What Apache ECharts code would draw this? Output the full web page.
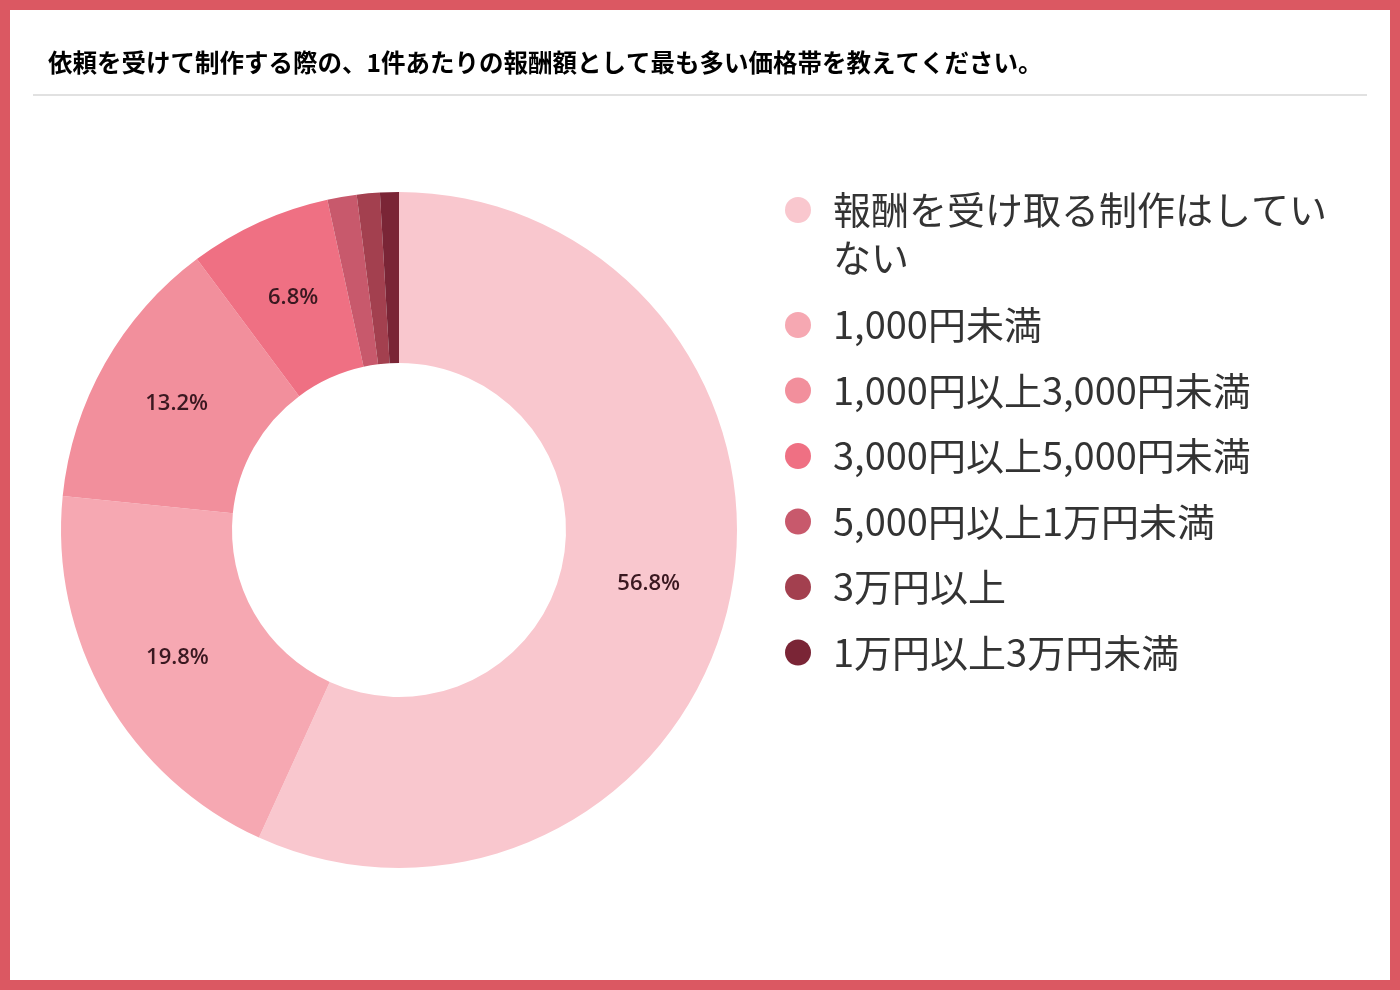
<!DOCTYPE html>
<html>
<head>
<meta charset="utf-8">
<script src="https://cdn.jsdelivr.net/npm/echarts@6/dist/echarts.min.js"></script>
<style>
  html, body { margin: 0; padding: 0; background: #fff; }
  #chart { width: 1400px; height: 990px; }
</style>
</head>
<body>
<div id="chart"></div>
<script>
// values
const titleText = '依頼を受けて制作する際の、1件あたりの報酬額として最も多い価格帯を教えてください。';
const categories = [
    '報酬を受け取る制作はしてい\nない',
    '1,000円未満',
    '1,000円以上3,000円未満',
    '3,000円以上5,000円未満',
    '5,000円以上1万円未満',
    '3万円以上',
    '1万円以上3万円未満'
];
const shares = [56.8, 19.8, 13.2, 6.8, 1.4, 1.1, 0.9];
const colors = ['#f9c7ce', '#f6a8b2', '#f28f9c', '#ef7083', '#c8596c', '#a3404f', '#7a2536'];

const pieData = categories.map((name, i) => ({ name: name, value: shares[i] }));

const legendText = {
    fontFamily: 'Noto Sans CJK JP',
    fontSize: 38,
    lineHeight: 48,
    color: '#333'
};

// first legend entry wraps on two lines; its dot sits on the first line
const topDot = 'path://M0,0 M60,96 M17,24 a13,13 0 1,0 26,0 a13,13 0 1,0 -26,0 z';

const option = {
    animation: false,
    color: colors,
    title: {
        text: titleText,
        left: 48,
        top: 50,
        padding: 0,
        textStyle: {
            fontFamily: 'Noto Sans CJK JP',
            fontSize: 24.5,
            fontWeight: 'bold',
            color: '#000'
        }
    },
    graphic: [
        {
            type: 'rect',
            silent: true,
            shape: { x: 5, y: 5, width: 1390, height: 980 },
            style: { fill: 'none', stroke: '#db5862', lineWidth: 10 }
        },
        {
            type: 'rect',
            silent: true,
            shape: { x: 33, y: 94.5, width: 1334, height: 1 },
            style: { fill: '#c4c4c4' }
        }
    ],
    legend: [
        {
            orient: 'vertical',
            left: 768,
            top: 186,
            padding: 0,
            itemWidth: 60,
            itemHeight: 96,
            icon: topDot,
            selectedMode: false,
            data: categories.slice(0, 1),
            textStyle: legendText
        },
        {
            orient: 'vertical',
            left: 785,
            top: 301,
            padding: 0,
            itemWidth: 60,
            itemHeight: 26,
            itemGap: 17.5,
            icon: 'circle',
            selectedMode: false,
            data: categories.slice(1),
            textStyle: legendText
        }
    ],
    series: [
        {
            type: 'pie',
            center: [399, 530],
            radius: [167, 338],
            startAngle: 90,
            clockwise: true,
            avoidLabelOverlap: false,
            emphasis: { disabled: true },
            itemStyle: { borderWidth: 0 },
            label: {
                show: true,
                position: 'inside',
                fontFamily: 'Open Sans',
                fontSize: 22,
                fontWeight: 600,
                color: '#3a1820',
                formatter: p => p.value >= 5 ? p.value.toFixed(1) + '%' : ''
            },
            labelLine: { show: false },
            data: pieData
        }
    ]
};

const myChart = echarts.init(document.getElementById('chart'));
myChart.setOption(option);
</script>
</body>
</html>
